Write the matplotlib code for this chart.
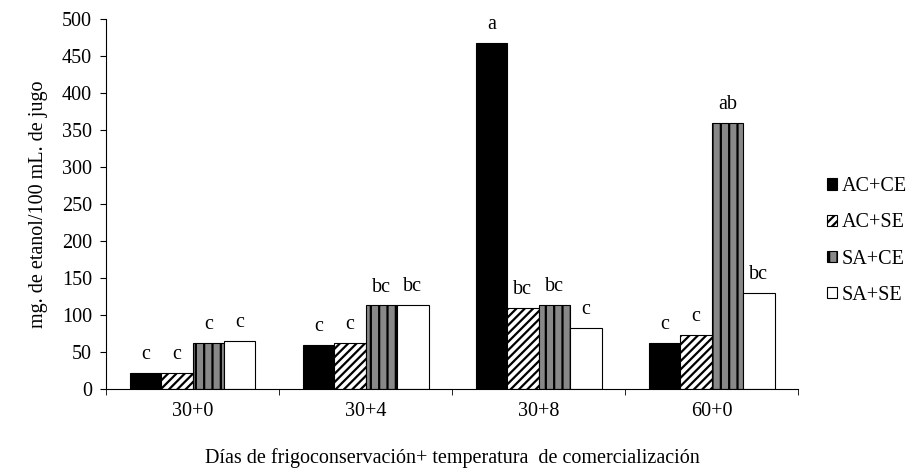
import matplotlib.pyplot as plt
import numpy as np

# Data
groups = ["30+0", "30+4", "30+8", "60+0"]
series = ["AC+CE", "AC+SE", "SA+CE", "SA+SE"]
ac_ce = [22, 59, 468, 62]
ac_se = [22, 62, 110, 73]
sa_ce = [62, 113, 114, 359]
sa_se = [65, 114, 83, 130]
letters = [["c", "c", "c", "c"],
           ["c", "c", "bc", "bc"],
           ["a", "bc", "bc", "c"],
           ["c", "c", "ab", "bc"]]

plt.rcParams['font.family'] = ['Liberation Serif', 'DejaVu Serif']
plt.rcParams['hatch.linewidth'] = 1.6
f_size = 14.5

fig = plt.figure(figsize=(9.12, 4.75), dpi=100)
ax = fig.add_axes([0.1162, 0.181, 0.759, 0.779])

x = np.arange(len(groups))
w = 0.182
styles = [dict(facecolor="black", edgecolor="black", hatch=None),
          dict(facecolor="white", edgecolor="black", hatch="////"),
          dict(facecolor="#888888", edgecolor="black", hatch="||"),
          dict(facecolor="white", edgecolor="black", hatch=None)]

all_vals = [ac_ce, ac_se, sa_ce, sa_se]
for i, (vals, st) in enumerate(zip(all_vals, styles)):
    pos = x + (i - 1.5) * w
    ax.bar(pos, vals, width=w, linewidth=0.8, label=series[i], **st)
    for j, v in enumerate(vals):
        ax.text(pos[j], v + 12, letters[j][i], ha="center", va="bottom", fontsize=f_size)

ax.set_xlim(-0.5, len(groups) - 0.5)
ax.set_ylim(0, 500)
ax.set_yticks(np.arange(0, 501, 50))
ax.set_xticks(x)
ax.set_xticklabels(groups)
ax.set_xticks(np.arange(-0.5, len(groups), 1), minor=True)
ax.tick_params(axis="x", which="major", length=0, labelsize=f_size, pad=9)
ax.tick_params(axis="x", which="minor", length=4, direction="out")
ax.tick_params(axis="y", labelsize=f_size, length=4, pad=6)

for pos in ['right', 'top']:
    ax.spines[pos].set_visible(False)

ax.set_ylabel("mg. de etanol/100 mL. de jugo", fontsize=f_size, labelpad=10)
ax.set_xlabel("Días de frigoconservación+ temperatura  de comercialización",
              fontsize=f_size, labelpad=20)

ax.legend(loc="center left", bbox_to_anchor=(1.015, 0.40), frameon=False,
          fontsize=f_size, handlelength=0.5, handleheight=0.5,
          handletextpad=0.25, labelspacing=0.85)

fig.savefig("out.png", dpi=100)
